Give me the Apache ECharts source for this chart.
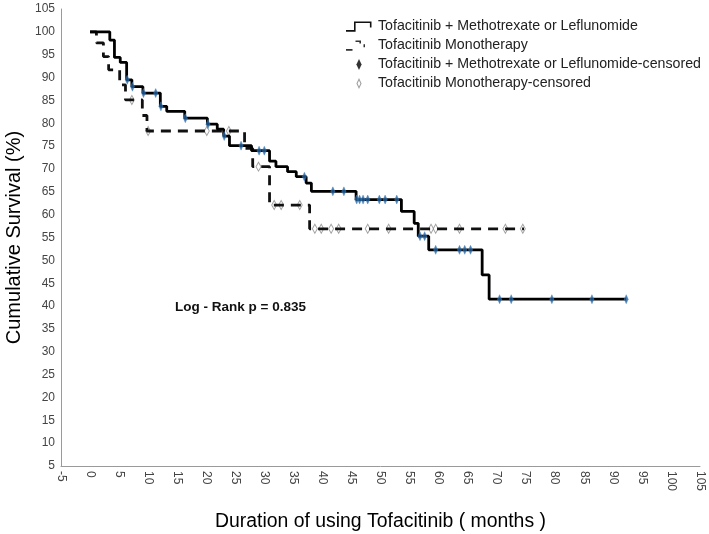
<!DOCTYPE html>
<html>
<head>
<meta charset="utf-8">
<script src="https://cdn.jsdelivr.net/npm/echarts@6/dist/echarts.min.js"></script>
<style>
html,body{margin:0;padding:0;background:#fff;}
#chart{width:709px;height:534px;}
</style>
</head>
<body>
<div id="chart"></div>
<script>
// ---- Data ----
const seriesNames = [
  'Tofacitinib + Methotrexate or Leflunomide',
  'Tofacitinib Monotherapy',
  'Tofacitinib + Methotrexate or Leflunomide-censored',
  'Tofacitinib Monotherapy-censored'
];
// Combination therapy KM steps: time (months) and survival (%) after each step
const comboTimes = [0, 3.4, 4.2, 5.2, 6.3, 7.2, 9.1, 12.1, 13.2, 16.3, 20.2, 21.9, 23.0, 24.0, 27.8, 30.9, 32.0, 34.0, 35.5, 37.2, 38.1, 45.8, 53.6, 55.8, 56.5, 58.3, 67.5, 68.7, 92.3];
const comboSurv  = [100, 98.2, 94.4, 93.3, 89.5, 88.0, 86.6, 83.7, 82.6, 81.1, 79.8, 78.7, 77.2, 75.1, 74.0, 71.7, 70.5, 69.4, 68.3, 66.9, 65.1, 63.3, 60.7, 58.1, 55.3, 52.3, 46.8, 41.5, 41.5];
const comboCensored = [6.4, 7.3, 9.2, 11.3, 12.2, 16.4, 20.3, 23.1, 26.0, 29.1, 30.0, 36.9, 41.8, 43.7, 45.9, 46.4, 47.0, 47.8, 49.8, 50.8, 52.8, 56.8, 57.6, 59.5, 63.6, 64.5, 65.5, 70.5, 72.5, 79.5, 86.4, 92.3];
// Monotherapy KM steps
const monoTimes = [0, 1.1, 2.3, 3.2, 5.1, 6.1, 9.0, 9.8, 26.6, 28.0, 30.9, 37.8, 74.7];
const monoSurv  = [100, 97.6, 94.6, 91.7, 88.4, 85.1, 81.7, 78.3, 74.5, 70.5, 62.1, 56.9, 56.9];
const monoCensored = [7.2, 10.0, 20.1, 23.9, 29.0, 31.7, 32.9, 36.1, 38.7, 39.8, 41.5, 42.8, 47.8, 51.4, 58.7, 59.5, 63.6, 71.5, 74.5];
// Axis ticks
const xTicks = {min: -5, max: 105, interval: 5};
const yTicks = {min: 5, max: 105, interval: 5};
const pValueText = 'Log - Rank p = 0.835';
const xTitle = 'Duration of using Tofacitinib ( months )';
const yTitle = 'Cumulative Survival (%)';

// ---- Build ----
function survAt(times, surv, t) {
  let s = surv[0];
  for (let i = 0; i < times.length; i++) { if (times[i] <= t) s = surv[i]; }
  return s;
}
const comboLine = comboTimes.map((t, i) => [t, comboSurv[i]]);
const monoLine = monoTimes.map((t, i) => [t, monoSurv[i]]);
const comboCens = comboCensored.map(t => [t, survAt(comboTimes, comboSurv, t)]);
const monoCens = monoCensored.map(t => [t, survAt(monoTimes, monoSurv, t)]);

const FONT = '"Liberation Sans", Arial, sans-serif';
const iconSolid = 'path://M0,0 M27,12 M0,9.6h9.5v1.6h-9.5z M8,1h1.6v10.2h-1.6z M8,1h17.5v1.6h-17.5z M23.9,1h1.6v6h-1.6z';
const iconDash = 'path://M0,0 M27,12 M0,9.6h6.5v1.6h-6.5z M9.5,1h5.5v1.6h-5.5z M13.4,1h1.6v3h-1.6z M17.5,4.8h1.5v3h-1.5z';
const iconDiamond = 'path://M0,0 M27,12 M13,0.5 L15.6,6 L13,11.5 L10.4,6z';
const iconDiamondOpen = 'path://M0,0 M27,12 M13,0.5 L15.6,6 L13,11.5 L10.4,6z M13,3 L11.6,6 L13,9 L14.4,6z';

const chart = echarts.init(document.getElementById('chart'), null, {renderer: 'canvas'});
chart.setOption({
  backgroundColor: '#fff',
  animation: false,
  textStyle: {fontFamily: FONT},
  grid: {left: 61, right: 9, top: 9, bottom: 68, containLabel: false, outerBoundsMode: 'none'},
  legend: {
    orient: 'vertical',
    left: 346,
    top: 19,
    padding: 0,
    itemWidth: 27,
    itemHeight: 12,
    itemGap: 4,
    selectedMode: false,
    textStyle: {fontFamily: FONT, fontSize: 14.2, color: '#222', lineHeight: 15},
    data: [
      {name: seriesNames[0], icon: iconSolid, itemStyle: {color: '#111', borderWidth: 0}},
      {name: seriesNames[1], icon: iconDash, itemStyle: {color: '#333', borderWidth: 0}},
      {name: seriesNames[2], icon: iconDiamond, itemStyle: {color: '#000', borderWidth: 0}},
      {name: seriesNames[3], icon: iconDiamondOpen, itemStyle: {color: '#888', borderWidth: 0}}
    ]
  },
  xAxis: {
    type: 'value',
    min: xTicks.min, max: xTicks.max, interval: xTicks.interval,
    name: xTitle,
    nameLocation: 'middle',
    nameGap: 46,
    nameTextStyle: {fontFamily: FONT, fontSize: 19.4, color: '#000'},
    axisLine: {show: true, onZero: false, lineStyle: {color: '#9a9a9a', width: 1}},
    axisTick: {show: false},
    splitLine: {show: false},
    axisLabel: {rotate: -90, margin: 5, fontSize: 12, color: '#444', fontFamily: FONT, showMinLabel: true, showMaxLabel: true, hideOverlap: false}
  },
  yAxis: {
    type: 'value',
    min: yTicks.min, max: yTicks.max, interval: yTicks.interval,
    name: yTitle,
    nameLocation: 'middle',
    nameGap: 34,
    nameRotate: 90,
    nameTextStyle: {fontFamily: FONT, fontSize: 20, color: '#000'},
    axisLine: {show: true, onZero: false, lineStyle: {color: '#9a9a9a', width: 1}},
    axisTick: {show: false},
    splitLine: {show: false},
    axisLabel: {margin: 6, fontSize: 12, color: '#444', fontFamily: FONT, showMinLabel: true, showMaxLabel: true, hideOverlap: false}
  },
  graphic: [{
    type: 'text',
    left: 175,
    top: 300,
    style: {text: pValueText, font: 'bold 13.5px ' + FONT, fill: '#111'}
  }],
  series: [
    {
      name: seriesNames[3],
      type: 'scatter',
      data: monoCens,
      symbol: 'diamond',
      symbolSize: [5, 9],
      z: 1,
      itemStyle: {color: 'rgba(255,255,255,0)', borderColor: '#8a8a8a', borderWidth: 1},
      silent: true
    },
    {
      name: seriesNames[1],
      type: 'line',
      step: 'end',
      data: monoLine,
      showSymbol: false,
      symbol: 'none',
      z: 2,
      color: '#111',
      lineStyle: {color: '#111', width: 2.8, type: [10, 7], cap: 'butt'},
      silent: true
    },
    {
      name: seriesNames[0],
      type: 'line',
      step: 'end',
      data: comboLine,
      showSymbol: false,
      symbol: 'none',
      z: 3,
      color: '#000',
      lineStyle: {color: '#000', width: 2.8},
      silent: true
    },
    {
      name: seriesNames[2],
      type: 'scatter',
      data: comboCens,
      symbol: 'diamond',
      symbolSize: [4, 9],
      z: 4,
      itemStyle: {color: '#1f5f9c', borderColor: '#4b86c0', borderWidth: 0.5},
      silent: true
    }
  ]
});
</script>
</body>
</html>
